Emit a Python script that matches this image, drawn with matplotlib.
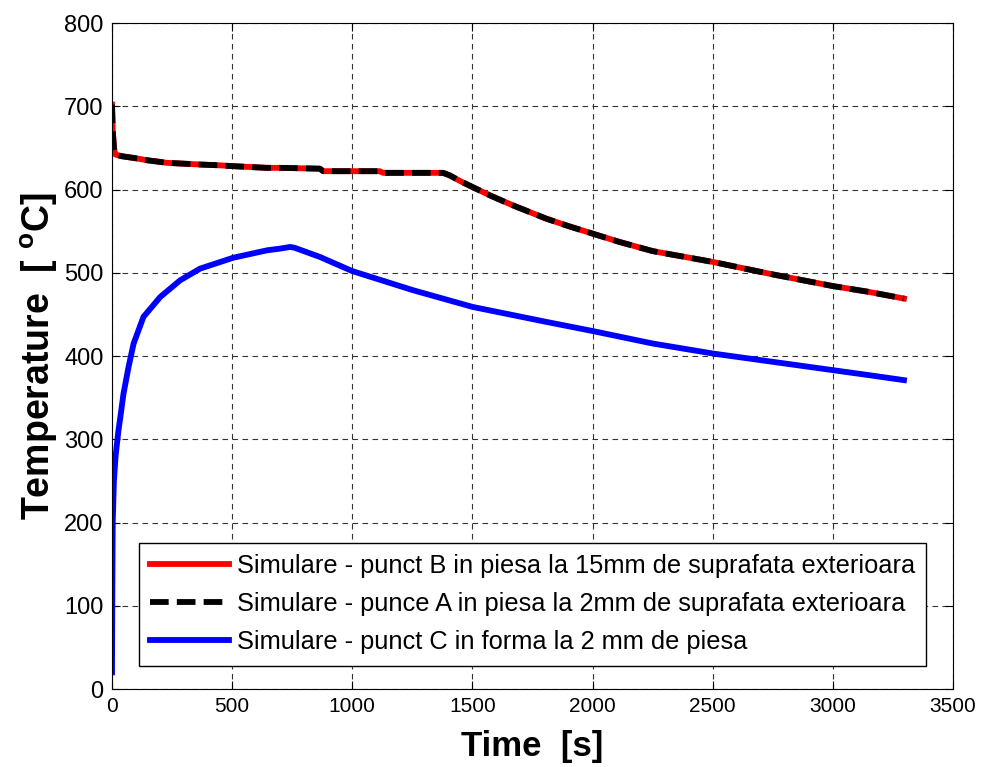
import numpy as np
import matplotlib.pyplot as plt

plt.rcParams['font.family'] = ['Liberation Sans', 'DejaVu Sans']

# Points A and B (they lie on top of each other in the picture)
time_AB = [0, 3, 8, 14, 40, 88, 150, 230, 300, 367, 450, 505, 645, 700, 865, 879,
           1000, 1114, 1128, 1250, 1378, 1405, 1450, 1500, 1580, 1668, 1807, 1900,
           2000, 2112, 2250, 2500, 2750, 3000, 3150, 3296]
temp_B = [702, 672, 650, 642, 640, 638, 635, 632, 631, 630, 629, 628, 626, 626, 625, 622,
          622, 622, 620, 620, 620, 617, 610, 603, 592, 581, 565, 556,
          547, 537, 526, 513, 498, 484, 477, 469]
temp_A = list(temp_B)

# Point C
time_C = [0, 1, 3, 8, 15, 27, 34, 48, 69, 90, 131, 201, 284, 367, 504, 646, 700, 741,
          760, 865, 1000, 1253, 1500, 1807, 2000, 2250, 2500, 2750, 3000, 3150, 3296]
temp_C = [20, 100, 200, 250, 280, 311, 325, 355, 387, 415, 447, 471, 491, 505, 518, 527,
          529, 531, 530, 519, 502, 479, 459, 441, 430, 415, 403, 393, 383, 377, 371]

labels = ['Simulare - punct B in piesa la 15mm de suprafata exterioara',
          'Simulare - punce A in piesa la 2mm de suprafata exterioara',
          'Simulare - punct C in forma la 2 mm de piesa']

fig = plt.figure(figsize=(9.85, 7.67), dpi=100)
ax = fig.add_axes([112/985, 1-689/767, 841/985, 666/767])

ax.plot(time_AB, temp_B, color='red', lw=4.2, label=labels[0])
ax.plot(time_AB, temp_A, color='black', lw=4.2, dashes=(3.2, 1.4), label=labels[1])
ax.plot(time_C, temp_C, color='blue', lw=4.2, label=labels[2])

ax.set_xlim(0, 3500)
ax.set_ylim(0, 800)
ax.set_xticks(np.arange(0, 3501, 500))
ax.set_yticks(np.arange(0, 801, 100))
ax.grid(True, color='#333333', linestyle=(0, (5, 4)), linewidth=0.8)
ax.tick_params(direction='in', top=True, right=True, length=6)
ax.tick_params(axis='x', labelsize=15, pad=6)
ax.tick_params(axis='y', labelsize=17, pad=6)
for s in ax.spines.values():
    s.set_linewidth(0.8)

ax.set_xlabel('Time  [s]', fontsize=25, fontweight='bold', labelpad=10)
ax.set_ylabel('Temperature  [ $\\mathregular{^o}$C]', fontsize=27, fontweight='bold', labelpad=3)

leg = ax.legend(loc='lower left', bbox_to_anchor=(0.032, 0.035), borderaxespad=0,
                fontsize=18.3, handlelength=3.1, handletextpad=0.3, labelspacing=0.55,
                fancybox=False, edgecolor='black', framealpha=1, borderpad=0.45)
leg.get_frame().set_linewidth(1.0)

fig.savefig('out.png', dpi=100)
